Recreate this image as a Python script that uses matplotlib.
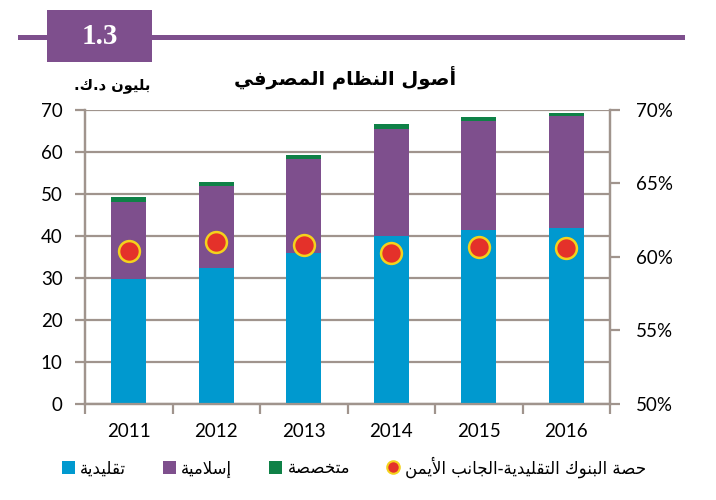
import numpy as np
import matplotlib
matplotlib.use('Agg')
import matplotlib.pyplot as plt
from matplotlib.patches import Rectangle, Patch
from matplotlib.lines import Line2D

# data
years = ['2011', '2012', '2013', '2014', '2015', '2016']
conventional = [29.7, 32.3, 36.0, 40.0, 41.5, 42.0]
islamic = [18.5, 19.7, 22.4, 25.5, 25.9, 26.6]
specialized = [1.0, 0.9, 0.8, 1.1, 0.9, 0.8]
conv_share = [60.4, 61.0, 60.8, 60.3, 60.7, 60.6]

left_ticks = [0, 10, 20, 30, 40, 50, 60, 70]
right_ticks = [50, 55, 60, 65, 70]

# simple arabic shaping (presentation forms + reverse for display)
ARABIC = {
    'ا': (0xFE8D, False), 'أ': (0xFE83, False), 'إ': (0xFE87, False),
    'ب': (0xFE8F, True), 'ة': (0xFE93, False), 'ت': (0xFE95, True),
    'ج': (0xFE9D, True), 'ح': (0xFEA1, True), 'خ': (0xFEA5, True),
    'د': (0xFEA9, False), 'ر': (0xFEAD, False), 'س': (0xFEB1, True),
    'ص': (0xFEB9, True), 'ظ': (0xFEC5, True), 'ف': (0xFED1, True),
    'ق': (0xFED5, True), 'ك': (0xFED9, True), 'ل': (0xFEDD, True),
    'م': (0xFEE1, True), 'ن': (0xFEE5, True), 'و': (0xFEED, False),
    'ي': (0xFEF1, True),
}
LAM_ALEF = {'ا': 0xFEFB, 'أ': 0xFEF7, 'إ': 0xFEF9}


def shape(s):
    tokens = []
    i = 0
    while i < len(s):
        c = s[i]
        if c == 'ل' and i + 1 < len(s) and s[i + 1] in LAM_ALEF:
            tokens.append((LAM_ALEF[s[i + 1]], False))
            i += 2
            continue
        tokens.append(ARABIC.get(c, c))
        i += 1
    out = []
    for k, t in enumerate(tokens):
        if isinstance(t, str):
            out.append(t)
            continue
        base, dual = t
        prev = tokens[k - 1] if k > 0 else None
        nxt = tokens[k + 1] if k + 1 < len(tokens) else None
        jp = isinstance(prev, tuple) and prev[1]
        jn = dual and isinstance(nxt, tuple)
        if jp and jn:
            form = 3
        elif jn:
            form = 2
        elif jp:
            form = 1
        else:
            form = 0
        out.append(chr(base + form))
    return ''.join(reversed(out))


BLUE = '#0099CF'
PURPLE = '#7E4F8D'
GREEN = '#0F8147'
RED = '#E4312A'
YELLOW = '#F4D21C'
GRID = '#A0948D'
NUMFONT = 'Lato'
ARFONT = 'DejaVu Sans'

fig = plt.figure(figsize=(7.16, 5.0), dpi=100)
ax = fig.add_axes([85 / 716, 1 - 404 / 500, 525 / 716, 294 / 500])
ax2 = ax.twinx()

x = np.arange(len(years))
bot2 = np.array(conventional) + np.array(islamic)
ax.bar(x, conventional, width=0.4, color=BLUE, zorder=3)
ax.bar(x, islamic, width=0.4, bottom=conventional, color=PURPLE, zorder=3)
ax.bar(x, specialized, width=0.4, bottom=bot2, color=GREEN, zorder=3)

ax.set_ylim(0, 70)
ax.set_xlim(-0.5, len(years) - 0.5)
ax.set_yticks(left_ticks)
ax.set_yticklabels([str(v) for v in left_ticks], fontsize=13.5, family=NUMFONT)
ax.yaxis.grid(True, color=GRID, lw=1.6, zorder=0)
ax.set_axisbelow(True)
ax.tick_params(axis='y', length=7, width=1.6, color=GRID, pad=9)

ax.set_xticks(x)
ax.set_xticklabels(years, fontsize=13.5, family=NUMFONT)
ax.set_xticks(np.arange(-0.5, len(years), 1.0), minor=True)
ax.tick_params(axis='x', which='major', length=0, pad=14)
ax.tick_params(axis='x', which='minor', length=7, width=1.6, color=GRID)

ax2.plot(x, conv_share, linestyle='none', marker='o', markersize=15,
         markerfacecolor=RED, markeredgecolor=YELLOW, markeredgewidth=1.8, zorder=5)
ax2.set_ylim(50, 70)
ax2.set_yticks(right_ticks)
ax2.set_yticklabels([f'{v}%' for v in right_ticks], fontsize=13.5, family=NUMFONT)
ax2.tick_params(axis='y', length=7, width=1.6, color=GRID, pad=12)

for a in (ax, ax2):
    for side in ('left', 'right', 'bottom'):
        a.spines[side].set_color(GRID)
        a.spines[side].set_linewidth(1.6)
    a.spines['top'].set_visible(False)

# header band
fig.add_artist(Line2D([20 / 716, 682 / 716], [1 - 37 / 500, 1 - 37 / 500],
                      color=PURPLE, lw=3.6, transform=fig.transFigure))
fig.add_artist(Rectangle((47 / 716, 1 - 62 / 500), 105 / 716, 52 / 500,
                         facecolor=PURPLE, edgecolor='none', transform=fig.transFigure))
fig.text(99.5 / 716, 1 - 36 / 500, '1.3', color='white', fontsize=21, fontweight='bold',
         family='Liberation Serif', ha='center', va='center')

fig.text(345 / 716, 1 - 77 / 500, shape('أصول النظام المصرفي'), fontsize=14,
         fontweight='bold', family=ARFONT, ha='center', va='center')
fig.text(150 / 716, 1 - 86 / 500, shape('بليون د.ك.'), fontsize=10.5,
         fontweight='bold', family=ARFONT, ha='right', va='center')

handles = [
    Patch(facecolor=BLUE, edgecolor='none'),
    Patch(facecolor=PURPLE, edgecolor='none'),
    Patch(facecolor=GREEN, edgecolor='none'),
    Line2D([], [], linestyle='none', marker='o', markersize=9,
           markerfacecolor=RED, markeredgecolor=YELLOW, markeredgewidth=1.5),
]
labels = [shape('تقليدية'), shape('إسلامية'), shape('متخصصة'),
          shape('حصة البنوك التقليدية-الجانب الأيمن')]
fig.legend(handles, labels, loc='center', bbox_to_anchor=(354 / 716, 1 - 467 / 500),
           ncol=4, frameon=False, prop={'family': ARFONT, 'size': 12},
           handlelength=0.8, handleheight=0.8, handletextpad=0.3, columnspacing=2.2)

fig.savefig('out.png', dpi=100)
